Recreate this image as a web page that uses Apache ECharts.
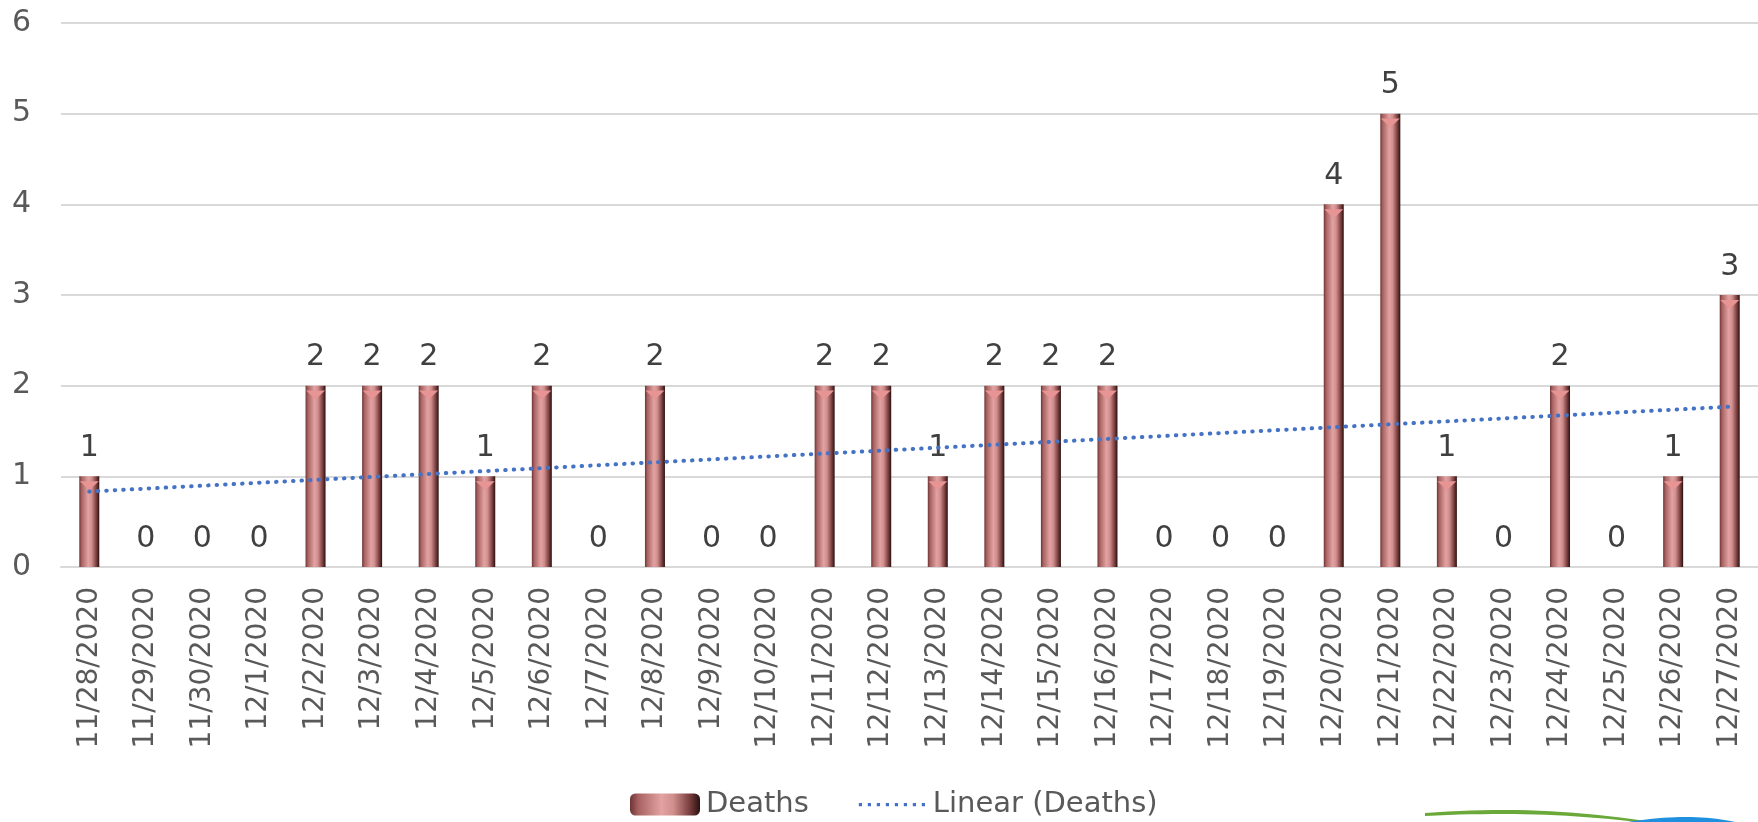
<!DOCTYPE html>
<html>
<head>
<meta charset="utf-8">
<script src="https://cdn.jsdelivr.net/npm/echarts@6/dist/echarts.min.js"></script>
<style>
html,body{margin:0;padding:0;background:#fff;}
#chart{width:1758px;height:822px;}
</style>
</head>
<body>
<div id="chart"></div>
<script>
const categories = ["11/28/2020","11/29/2020","11/30/2020","12/1/2020","12/2/2020","12/3/2020","12/4/2020","12/5/2020","12/6/2020","12/7/2020","12/8/2020","12/9/2020","12/10/2020","12/11/2020","12/12/2020","12/13/2020","12/14/2020","12/15/2020","12/16/2020","12/17/2020","12/18/2020","12/19/2020","12/20/2020","12/21/2020","12/22/2020","12/23/2020","12/24/2020","12/25/2020","12/26/2020","12/27/2020"];
const deaths = [1,0,0,0,2,2,2,1,2,0,2,0,0,2,2,1,2,2,2,0,0,0,4,5,1,0,2,0,1,3];
const yTicks = [0,1,2,3,4,5,6];

// least-squares linear trendline of the deaths series (Excel "Linear (Deaths)")
function linearTrend(vals){
  const n = vals.length;
  let sx=0, sy=0, sxy=0, sxx=0;
  vals.forEach((v,i)=>{const x=i+1; sx+=x; sy+=v; sxy+=x*v; sxx+=x*x;});
  const b = (n*sxy - sx*sy)/(n*sxx - sx*sx);
  const a = (sy - b*sx)/n;
  return vals.map((v,i)=>+(a + b*(i+1)).toFixed(4));
}
const trend = linearTrend(deaths);
// bevel cap only on non-zero bars
const bevelData = deaths.map(v => v > 0 ? v : '-');

// decorative logo swoosh outline (quadratic curve sampling)
function quad(p0,p1,p2,steps){
  const pts=[];
  for(let i=0;i<=steps;i++){const t=i/steps;
    pts.push([(1-t)*(1-t)*p0[0]+2*(1-t)*t*p1[0]+t*t*p2[0],(1-t)*(1-t)*p0[1]+2*(1-t)*t*p1[1]+t*t*p2[1]]);}
  return pts;
}
const greenPts = quad([1425,813],[1540,804],[1652,822],20).concat(quad([1636,822],[1540,810],[1425,816],20));
const bluePts = quad([1628,822],[1690,812],[1735,822],20);

// dotted legend icon for the trendline
let dotPath = 'path://M0 0h0.01v0.01h-0.01z M0 21.99h0.01v0.01h-0.01z';
for (let i = 0; i < 8; i++) { const x = 2 + i * 9; dotPath += ' M' + x + ' 9.5h3.2v3.2h-3.2z'; }
dotPath += ' M69.99 0h0.01v0.01h-0.01z';

const FONT = 'DejaVu Sans';
const chart = echarts.init(document.getElementById('chart'));
const barGrad = {type:'linear', x:0, y:0, x2:1, y2:0, colorStops:[
  {offset:0, color:'#6e3434'},
  {offset:0.12, color:'#a86262'},
  {offset:0.45, color:'#e3a3a2'},
  {offset:0.62, color:'#d08e8d'},
  {offset:0.85, color:'#7a3f3f'},
  {offset:1, color:'#2a1010'}
]};
chart.setOption({
  animation:false,
  backgroundColor:'#ffffff',
  grid:{left:61, right:0, top:23, bottom:255, containLabel:false},
  legend:{
    left:625, top:785,
    itemWidth:70, itemHeight:22, itemGap:48,
    textStyle:{fontFamily:FONT, fontSize:29, color:'#595959', padding:[0,0,0,1]},
    data:[{name:'Deaths'}, {name:'Linear (Deaths)', icon:dotPath, itemStyle:{color:'#4472c4'}}]
  },
  xAxis:{
    type:'category',
    data:categories,
    axisLine:{show:true, lineStyle:{color:'#d9d9d9', width:2}},
    axisTick:{show:false},
    axisLabel:{rotate:90, margin:20, interval:0, fontFamily:FONT, fontSize:28, color:'#595959'}
  },
  yAxis:{
    type:'value',
    min:yTicks[0], max:yTicks[yTicks.length-1], interval:1,
    axisLine:{show:false}, axisTick:{show:false},
    axisLabel:{margin:30, fontFamily:FONT, fontSize:30, color:'#595959'},
    splitLine:{lineStyle:{color:'#d9d9d9', width:2}}
  },
  series:[
    {
      name:'Deaths',
      type:'bar',
      data:deaths,
      barWidth:20,
      itemStyle:{color:barGrad},
      label:{show:true, position:'top', distance:13, fontFamily:FONT, fontSize:30, color:'#404040'},
      z:2
    },
    {
      name:'bevel',
      type:'pictorialBar',
      data:bevelData,
      symbol:'path://M0 0L20 0L10 9Z',
      symbolSize:[19, 9],
      symbolPosition:'end',
      symbolOffset:[0, '50%'],
      itemStyle:{color:'#e79494', borderColor:'#c0504d', borderWidth:1.2},
      silent:true,
      z:3
    },
    {
      name:'Linear (Deaths)',
      type:'line',
      data:trend,
      symbol:'none',
      smooth:false,
      lineStyle:{color:'#4472c4', width:4, type:[0.5,8], cap:'round'},
      itemStyle:{color:'#4472c4'},
      z:4
    }
  ],
  graphic:[
    {type:'polygon', shape:{points:greenPts}, style:{fill:'#6aa83a'}},
    {type:'polygon', shape:{points:bluePts}, style:{fill:'#1f8fe0'}}
  ]
});
</script>
</body>
</html>
